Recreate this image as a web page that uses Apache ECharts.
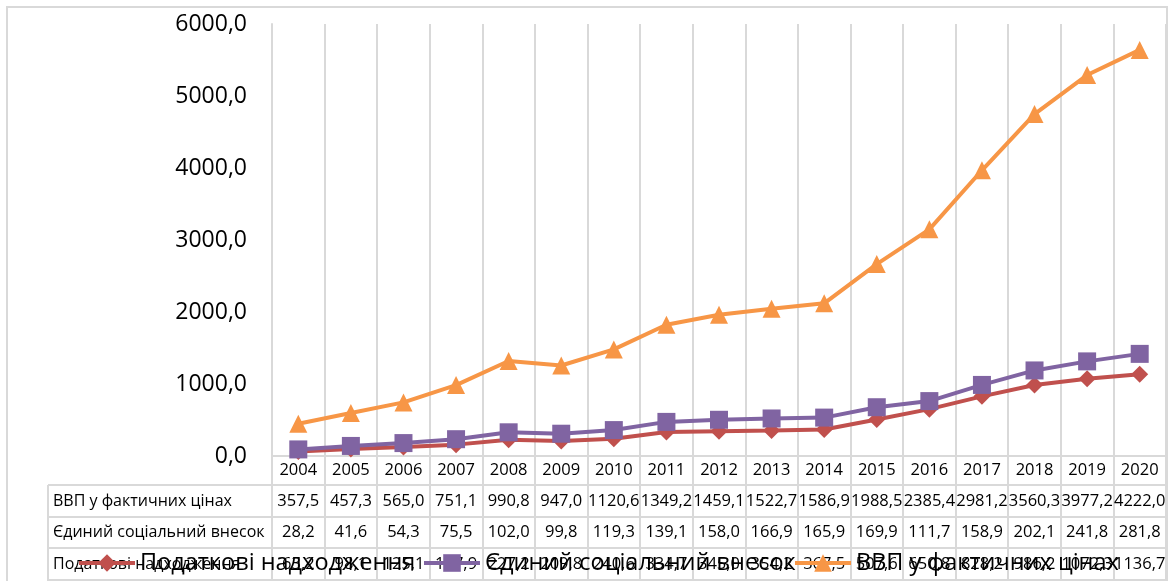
<!DOCTYPE html>
<html>
<head>
<meta charset="utf-8">
<script src="https://cdn.jsdelivr.net/npm/echarts@6/dist/echarts.min.js"></script>
<style>
html, body { margin: 0; padding: 0; background: #fff; }
#chart { width: 1172px; height: 581px; }
</style>
</head>
<body>
<div id="chart"></div>
<script>
var years = ['2004', '2005', '2006', '2007', '2008', '2009', '2010', '2011', '2012',
             '2013', '2014', '2015', '2016', '2017', '2018', '2019', '2020'];
var vvp = [357.5, 457.3, 565.0, 751.1, 990.8, 947.0, 1120.6, 1349.2, 1459.1,
           1522.7, 1586.9, 1988.5, 2385.4, 2981.2, 3560.3, 3977.2, 4222.0];
var esv = [28.2, 41.6, 54.3, 75.5, 102.0, 99.8, 119.3, 139.1, 158.0,
           166.9, 165.9, 169.9, 111.7, 158.9, 202.1, 241.8, 281.8];
var tax = [63.2, 98.1, 125.1, 157.9, 227.2, 209.8, 240.6, 334.7, 345.0,
           354.2, 367.5, 507.6, 650.8, 828.2, 986.2, 1072.3, 1136.7];
var rowNames = ['ВВП у фактичних цінах', 'Єдиний соціальний внесок', 'Податкові надходження'];
var rowData = [vvp, esv, tax];

var font = 'Open Sans';
var grey = '#d9d9d9';
var axisY = 456;
var rowLines = [485, 517, 548, 580];

function fmt(v) { return v.toFixed(1).replace('.', ','); }

var chart = echarts.init(document.getElementById('chart'));

// extra x axes act as the rows of the data table
var tableAxes = rowData.map(function (row, k) {
    var mid = (rowLines[k] + rowLines[k + 1]) / 2;
    return {
        type: 'category',
        data: years,
        position: 'bottom',
        axisLine: { show: false },
        axisTick: { show: false },
        splitLine: { show: false },
        axisLabel: {
            interval: 0,
            margin: mid - axisY,
            verticalAlign: 'middle',
            color: '#000',
            fontFamily: font,
            fontSize: 16.5,
            formatter: function (v, i) { return fmt(row[i]); }
        }
    };
});

var graphics = [
    { type: 'rect', shape: { x: 7, y: 7, width: 1160, height: 590 },
      style: { fill: 'none', stroke: grey, lineWidth: 2 }, z: -1 },
    { type: 'line', shape: { x1: 48, y1: rowLines[0], x2: 48, y2: 581 },
      style: { stroke: grey, lineWidth: 2 } }
];
rowLines.forEach(function (y) {
    graphics.push({ type: 'line', shape: { x1: 48, y1: y, x2: 1166, y2: y },
                    style: { stroke: grey, lineWidth: 2 } });
});
rowNames.forEach(function (name, k) {
    graphics.push({ type: 'text', x: 53, y: (rowLines[k] + rowLines[k + 1]) / 2,
                    style: { text: name, fill: '#000', font: '16px "' + font + '"',
                             verticalAlign: 'middle' } });
});

function legendAt(name, left) {
    return {
        data: [name], left: left, top: 549, padding: 0,
        itemWidth: 56, itemHeight: 22,
        lineStyle: { width: 4 },
        textStyle: { fontFamily: font, fontSize: 23.5, color: '#000', lineHeight: 28 }
    };
}

var option = {
    animation: false,
    textStyle: { fontFamily: font },
    grid: { left: 272, right: 6, top: 24, bottom: 581 - axisY },
    legend: [
        legendAt('Податкові надходження', 77),
        legendAt('Єдиний соціальний внесок', 422),
        legendAt('ВВП у фактичних цінах', 793)
    ],
    xAxis: [{
        type: 'category',
        data: years,
        boundaryGap: true,
        axisLine: { lineStyle: { color: grey, width: 2 } },
        axisTick: { show: true, interval: 0, length: rowLines[3] - axisY,
                    lineStyle: { color: grey, width: 2 } },
        splitLine: { show: true, interval: 0, lineStyle: { color: grey, width: 2 } },
        axisLabel: { interval: 0, margin: 14, verticalAlign: 'middle',
                     color: '#000', fontFamily: font, fontSize: 16.5 }
    }].concat(tableAxes),
    yAxis: {
        type: 'value',
        min: 0, max: 6000, interval: 1000,
        axisLine: { show: true, lineStyle: { color: grey, width: 2 } },
        axisTick: { show: false },
        splitLine: { show: false },
        axisLabel: { formatter: fmt, margin: 25, color: '#000',
                     fontFamily: font, fontSize: 23 }
    },
    series: [{
        name: 'Податкові надходження',
        type: 'line', stack: 'total', data: tax,
        symbol: 'diamond', symbolSize: 17, showAllSymbol: true,
        lineStyle: { width: 4, color: '#C0504D' },
        itemStyle: { color: '#C0504D' }
    }, {
        name: 'Єдиний соціальний внесок',
        type: 'line', stack: 'total', data: esv,
        symbol: 'rect', symbolSize: 18, showAllSymbol: true,
        lineStyle: { width: 4, color: '#8064A2' },
        itemStyle: { color: '#8064A2' }
    }, {
        name: 'ВВП у фактичних цінах',
        type: 'line', stack: 'total', data: vvp,
        symbol: 'triangle', symbolSize: 18, showAllSymbol: true,
        lineStyle: { width: 4, color: '#F79646' },
        itemStyle: { color: '#F79646' }
    }],
    graphic: graphics
};
chart.setOption(option);
</script>
</body>
</html>
